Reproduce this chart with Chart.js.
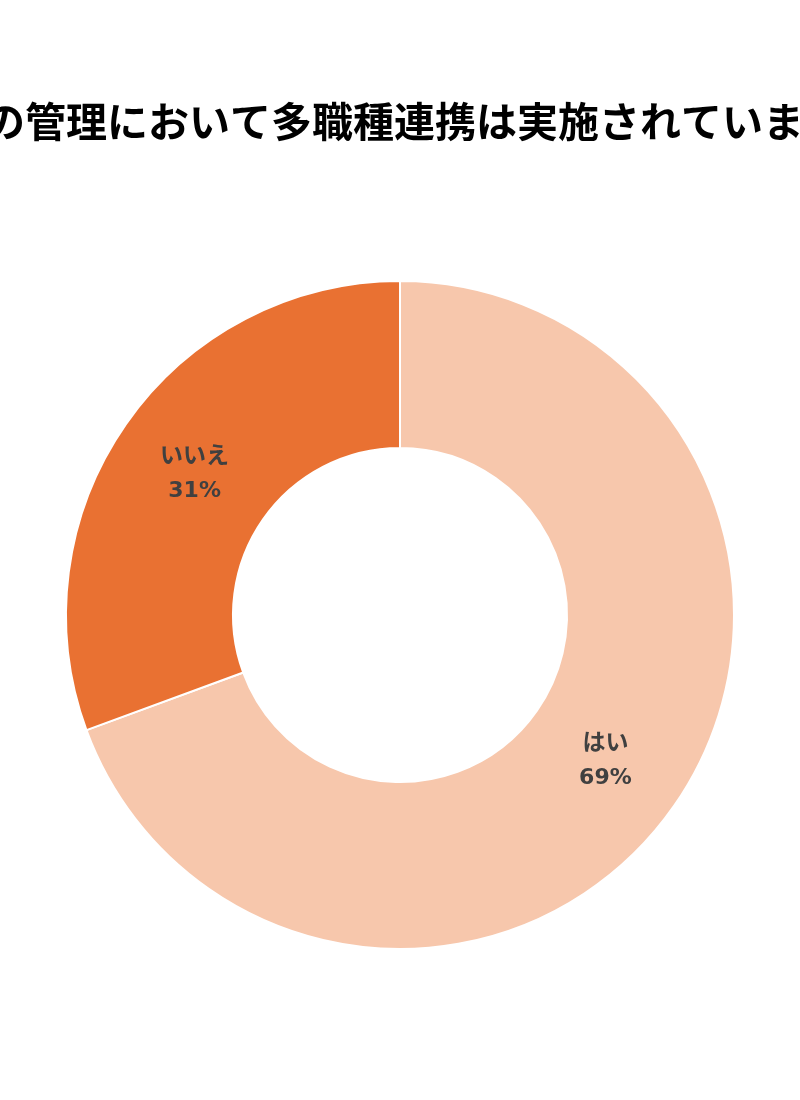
<!DOCTYPE html>
<html>
<head>
<meta charset="utf-8">
<script src="https://cdn.jsdelivr.net/npm/chart.js@4/dist/chart.umd.min.js"></script>
<style>
  body { margin: 0; background: #ffffff; }
  canvas { display: block; }
</style>
</head>
<body>
<canvas id="chart" width="800" height="1100"></canvas>
<script>
// title is wider than the canvas, it gets cut off on both sides
const titleText = "褥瘡の管理において多職種連携は実施されていますか";
const labels = ["はい", "いいえ"];
const values = [69.4, 30.6];
const colors = ["#F7C7AC", "#E97132"];

// draws the title without squeezing it to the canvas width
const titlePlugin = {
    id: "bigTitle",
    afterDraw(chart) {
        const ctx = chart.ctx;
        ctx.save();
        ctx.font = "bold 41px 'Noto Sans CJK JP'";
        ctx.fillStyle = "#000000";
        ctx.textAlign = "center";
        ctx.textBaseline = "middle";
        ctx.fillText(titleText, chart.width / 2 - 6, 121);
        ctx.restore();
    },
};

// label + percent in the middle of each slice
const sliceLabels = {
    id: "sliceLabels",
    afterDatasetsDraw(chart) {
        const ctx = chart.ctx;
        const meta = chart.getDatasetMeta(0);
        const total = values.reduce((a, b) => a + b, 0);
        ctx.save();
        ctx.fillStyle = "#404040";
        ctx.textAlign = "center";
        ctx.textBaseline = "middle";
        meta.data.forEach((arc, i) => {
            const pos = arc.tooltipPosition();
            const pct = Math.round((values[i] / total) * 100) + "%";
            ctx.font = "bold 23px 'Noto Sans CJK JP'";
            ctx.fillText(labels[i], pos.x, pos.y - 17);
            ctx.font = "bold 22px 'DejaVu Sans'";
            ctx.fillText(pct, pos.x, pos.y + 20);
        });
        ctx.restore();
    },
};

new Chart("chart", {
    type: "doughnut",
    data: {
        labels: labels,
        datasets: [
            {
                data: values,
                backgroundColor: colors,
                borderColor: "#ffffff",
                borderWidth: 2,
            },
        ],
    },
    options: {
        responsive: false,
        animation: false,
        cutout: "50%",
        layout: {
            padding: { top: 195, left: 65, right: 65, bottom: 65 },
        },
        plugins: {
            legend: { display: false },
            title: { display: false },
            tooltip: { enabled: false },
        },
    },
    plugins: [sliceLabels, titlePlugin],
});
</script>
</body>
</html>
